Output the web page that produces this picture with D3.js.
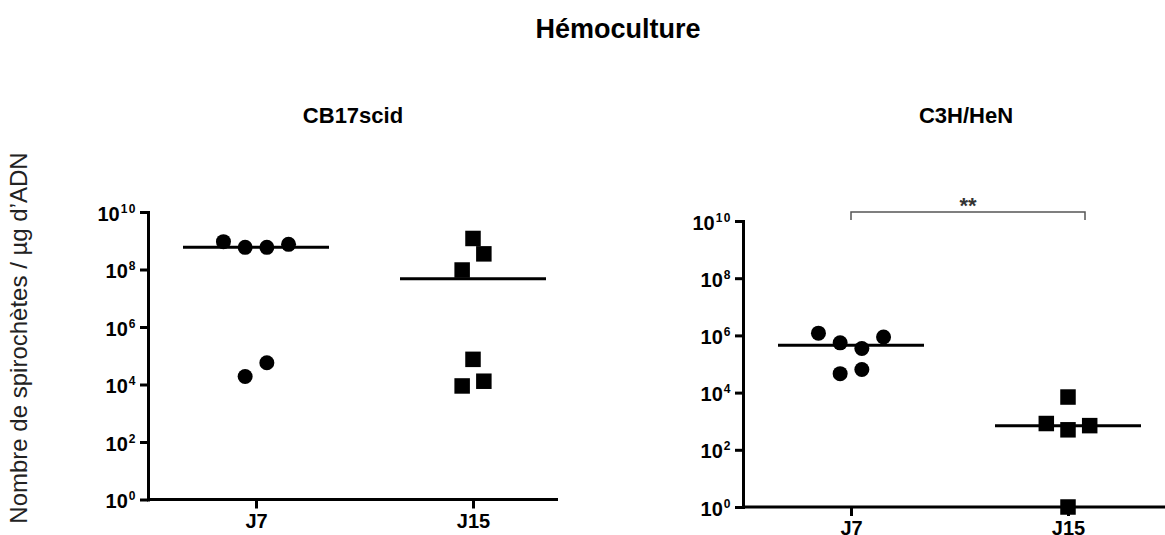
<!DOCTYPE html>
<html>
<head>
<meta charset="utf-8">
<script src="https://cdn.jsdelivr.net/npm/d3@7"></script>
<style>
  body { margin: 0; background: #fff; }
  text { font-family: "Liberation Sans", Arial, sans-serif; }
</style>
</head>
<body>
<div id="chart"></div>
<script>
// categories and ticks
let groups = ["J7", "J15"];
let yTicks = [1, 1e2, 1e4, 1e6, 1e8, 1e10];

// CB17scid (spirochetes / ug ADN)
let cb17J7 = [9.3e8, 5.9e8, 5.9e8, 7.5e8, 1.9e4, 5.7e4];
let cb17J15 = [1.2e9, 3.5e8, 9.6e7, 8.9e3, 7.5e4, 1.3e4];

// C3H/HeN
let c3hJ7 = [1.2e6, 5.5e5, 3.5e5, 8.8e5, 4.6e4, 6.4e4];
let c3hJ15 = [7.0e3, 8.3e2, 5.0e2, 7.0e2, 1];

let width = 1165, height = 535;
let slotStep = 21.7;   // horizontal step between side by side markers
let rowGap = 14.5;     // markers closer than this (px) go in the same row

let svg = d3.select("#chart").append("svg")
    .attr("width", width)
    .attr("height", height);

svg.append("text")
    .attr("x", 618)
    .attr("y", 38)
    .attr("text-anchor", "middle")
    .style("font-size", "27px")
    .style("font-weight", "bold")
    .text("Hémoculture");

svg.append("text")
    .attr("transform", "rotate(-90)")
    .attr("x", -338)
    .attr("y", 27)
    .attr("text-anchor", "middle")
    .style("font-size", "24px")
    .style("fill", "#222")
    .text("Nombre de spirochètes / µg d\u2019ADN");

// simple GraphPad-like scatter layout: rows of overlapping points are centred,
// lone points that nearly touch get staggered left / right
function swarm(values, y, size) {
  let pts = values.map((v, i) => ({v: v, i: i, py: y(v)}));
  let sorted = pts.slice().sort((a, b) => a.py - b.py || a.i - b.i);
  let rows = [];
  sorted.forEach(p => {
    let row = rows[rows.length - 1];
    if (row && p.py - row[row.length - 1].py < rowGap) row.push(p);
    else rows.push([p]);
  });
  let prev = null;
  rows.forEach(row => {
    row.sort((a, b) => a.i - b.i);
    if (row.length === 1 && prev && prev.length === 1 && row[0].py - prev[0].py < 1.5 * size) {
      row[0].slot = prev[0].slot === 0 ? 0.5 : -prev[0].slot;
    } else {
      row.forEach((p, k) => { p.slot = k - (row.length - 1) / 2; });
    }
    prev = row;
  });
  return pts;
}

let panels = [
  {title: "CB17scid", left: 148, top: 212, bottom: 499.5, axisLen: 410, titleX: 353, series: [cb17J7, cb17J15]},
  {title: "C3H/HeN", left: 743, top: 221, bottom: 507, axisLen: 422, titleX: 966, series: [c3hJ7, c3hJ15], stars: "**"}
];

panels.forEach(p => {
  let g = svg.append("g");

  let x = d3.scalePoint().domain(groups).range([p.left + 108, p.left + 325]);
  let y = d3.scaleLog().domain([1, 1e10]).range([p.bottom, p.top]);

  g.append("text")
      .attr("x", p.titleX)
      .attr("y", 123)
      .attr("text-anchor", "middle")
      .style("font-size", "22px")
      .style("font-weight", "bold")
      .text(p.title);

  // x axis
  g.append("line")
      .attr("x1", p.left)
      .attr("x2", p.left + p.axisLen)
      .attr("y1", p.bottom)
      .attr("y2", p.bottom)
      .attr("stroke", "#000")
      .attr("stroke-width", 3);

  let xg = g.append("g")
      .attr("transform", "translate(0," + p.bottom + ")")
      .call(d3.axisBottom(x).tickSize(9).tickPadding(5).tickSizeOuter(0));
  xg.select(".domain").remove();
  xg.selectAll(".tick line").attr("stroke", "#000").attr("stroke-width", 3);
  xg.selectAll(".tick text")
      .attr("fill", "#000")
      .style("font-size", "20px")
      .style("font-weight", "bold");

  // y axis
  let yg = g.append("g")
      .attr("transform", "translate(" + p.left + ",0)")
      .call(d3.axisLeft(y).tickValues(yTicks).tickSize(8).tickPadding(3).tickSizeOuter(0));
  yg.select(".domain").attr("stroke", "#000").attr("stroke-width", 3).attr("stroke-linecap", "square");
  yg.selectAll(".tick line").attr("stroke", "#000").attr("stroke-width", 3);
  yg.selectAll(".tick text").each(function(d) {
    let t = d3.select(this).text(null)
        .attr("dy", null)
        .attr("y", 8)
        .attr("fill", "#000")
        .style("font-size", "20px")
        .style("font-weight", "bold");
    t.append("tspan").text("10");
    t.append("tspan")
        .attr("dy", -8)
        .attr("dx", 1)
        .style("font-size", "12px")
        .style("letter-spacing", "1.5px")
        .text(Math.round(Math.log10(d)));
  });

  // medians
  p.series.forEach((vals, gi) => {
    let cx = x(groups[gi]);
    g.append("line")
        .attr("x1", cx - 73)
        .attr("x2", cx + 73)
        .attr("y1", y(d3.median(vals)))
        .attr("y2", y(d3.median(vals)))
        .attr("stroke", "#000")
        .attr("stroke-width", 3);
  });

  // J7 circles
  let circSize = 15;
  g.selectAll(".dot")
    .data(swarm(p.series[0], y, circSize))
    .enter()
      .append("circle")
      .attr("cx", d => x(groups[0]) + d.slot * slotStep)
      .attr("cy", d => d.py)
      .attr("r", circSize / 2)
      .attr("fill", "#000");

  // J15 squares
  let sqSize = 15.5;
  g.selectAll(".sq")
    .data(swarm(p.series[1], y, sqSize))
    .enter()
      .append("rect")
      .attr("x", d => x(groups[1]) + d.slot * slotStep - sqSize / 2)
      .attr("y", d => d.py - sqSize / 2)
      .attr("width", sqSize)
      .attr("height", sqSize)
      .attr("fill", "#000");

  // significance bracket
  if (p.stars) {
    let x1 = x(groups[0]), x2 = x(groups[1]) + 17;
    g.append("path")
        .attr("d", "M" + x1 + "," + (p.top - 1) + "V" + (p.top - 9) + "H" + x2 + "V" + (p.top - 1))
        .attr("fill", "none")
        .attr("stroke", "#555")
        .attr("stroke-width", 1.5);
    g.append("text")
        .attr("x", (x1 + x2) / 2)
        .attr("y", p.top - 8)
        .attr("text-anchor", "middle")
        .style("font-size", "22px")
        .style("font-weight", "bold")
        .style("fill", "#333")
        .text(p.stars);
  }
});
</script>
</body>
</html>
